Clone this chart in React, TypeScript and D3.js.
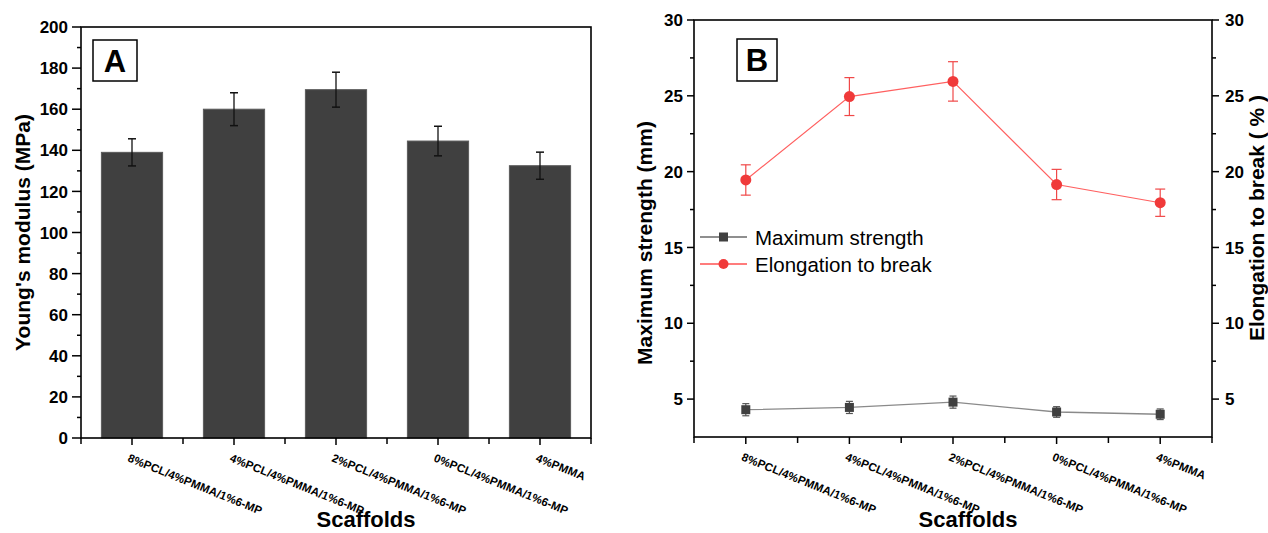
import React from "react";
import * as d3 from "d3";

const categories = [
  "8%PCL/4%PMMA/1%6-MP",
  "4%PCL/4%PMMA/1%6-MP",
  "2%PCL/4%PMMA/1%6-MP",
  "0%PCL/4%PMMA/1%6-MP",
  "4%PMMA",
];

// panel A
const modulus = [139, 160, 169.5, 144.5, 132.5];
const modulusErr = [6.6, 8, 8.5, 7.2, 6.6];

// panel B
const strength = [4.3, 4.45, 4.8, 4.15, 4.0];
const strengthErr = [0.4, 0.4, 0.4, 0.35, 0.35];
const elongation = [19.45, 24.95, 25.95, 19.15, 17.95];
const elongationErr = [1.0, 1.25, 1.3, 1.0, 0.9];

const ticksA = d3.range(0, 201, 20);
const minorA = d3.range(10, 200, 20);
const ticksB = [5, 10, 15, 20, 25, 30];
const minorB = [7.5, 12.5, 17.5, 22.5, 27.5];

const FONT = "'Liberation Sans', Arial, Helvetica, sans-serif";

const W = 1268;
const H = 533;

const CatTicks = ({ x, y0 }: { x: d3.ScaleBand<string>; y0: number }) => {
  const step = x.step();
  const start = x.range()[0];
  return (
    <g>
      {d3.range(0, categories.length + 1).map((k) => (
        <line key={"m" + k} x1={start + k * step} x2={start + k * step} y1={y0} y2={y0 + 6} stroke="#000" strokeWidth={1.5} />
      ))}
      {categories.map((c) => {
        const cx = x(c)! + x.bandwidth() / 2;
        return (
          <g key={c}>
            <line x1={cx} x2={cx} y1={y0} y2={y0 + 7} stroke="#000" strokeWidth={1.5} />
            <text
              transform={`translate(${cx - 5},${y0 + 23}) rotate(22)`}
              fontSize={11.5}
              fontWeight="bold"
              fontFamily={FONT}
              letterSpacing={0.1}
            >
              {c}
            </text>
          </g>
        );
      })}
    </g>
  );
};

const PanelA = () => {
  const x = d3.scaleBand<string>().domain(categories).range([81, 591]).paddingInner(0.4).paddingOuter(0.2);
  const y = d3.scaleLinear().domain([0, 200]).range([438, 27]);
  const [x0, x1] = x.range();
  const [yb, yt] = y.range();
  return (
    <g fontFamily={FONT}>
      {categories.map((c, i) => {
        const cx = x(c)! + x.bandwidth() / 2;
        return (
          <g key={c}>
            <rect x={x(c)} y={y(modulus[i])} width={x.bandwidth()} height={yb - y(modulus[i])} fill="#404040" stroke="#5a5a5a" strokeWidth={1} />
            <line x1={cx} x2={cx} y1={y(modulus[i] + modulusErr[i])} y2={y(modulus[i] - modulusErr[i])} stroke="#111" strokeWidth={1.3} />
            <line x1={cx - 4} x2={cx + 4} y1={y(modulus[i] + modulusErr[i])} y2={y(modulus[i] + modulusErr[i])} stroke="#111" strokeWidth={1.5} />
            <line x1={cx - 4} x2={cx + 4} y1={y(modulus[i] - modulusErr[i])} y2={y(modulus[i] - modulusErr[i])} stroke="#111" strokeWidth={1.5} />
          </g>
        );
      })}
      <rect x={x0} y={yt} width={x1 - x0} height={yb - yt} fill="none" stroke="#000" strokeWidth={1.6} />
      {ticksA.map((t) => (
        <g key={t}>
          <line x1={x0 - 9} x2={x0} y1={y(t)} y2={y(t)} stroke="#000" strokeWidth={1.5} />
          <text x={x0 - 13} y={y(t)} dy="0.36em" textAnchor="end" fontSize={17} fontWeight="bold">
            {t}
          </text>
        </g>
      ))}
      {minorA.map((t) => (
        <line key={t} x1={x0 - 4} x2={x0} y1={y(t)} y2={y(t)} stroke="#000" strokeWidth={1.5} />
      ))}
      <CatTicks x={x} y0={yb} />
      <text transform={`translate(30,${(yt + yb) / 2}) rotate(-90)`} textAnchor="middle" fontSize={21} fontWeight="bold">
        Young's modulus (MPa)
      </text>
      <text x={366} y={527} textAnchor="middle" fontSize={22} fontWeight="bold">
        Scaffolds
      </text>
      <rect x={93} y={40} width={44} height={41} fill="#fff" stroke="#000" strokeWidth={1.5} />
      <text x={115} y={72} textAnchor="middle" fontSize={31} fontWeight="bold">
        A
      </text>
    </g>
  );
};

const PanelB = () => {
  const x = d3.scaleBand<string>().domain(categories).range([694, 1212]);
  const y = d3.scaleLinear().domain([2.5, 30]).range([437, 20]);
  const [x0, x1] = x.range();
  const [yb, yt] = y.range();
  const cx = (c: string) => x(c)! + x.bandwidth() / 2;
  const line = d3
    .line<number>()
    .x((_, i) => cx(categories[i]))
    .y((d) => y(d));
  return (
    <g fontFamily={FONT}>
      <rect x={x0} y={yt} width={x1 - x0} height={yb - yt} fill="none" stroke="#000" strokeWidth={1.6} />
      {ticksB.map((t) => (
        <g key={t}>
          <line x1={x0 - 7} x2={x0} y1={y(t)} y2={y(t)} stroke="#000" strokeWidth={1.5} />
          <text x={x0 - 11} y={y(t)} dy="0.36em" textAnchor="end" fontSize={17} fontWeight="bold">
            {t}
          </text>
          <line x1={x1} x2={x1 + 7} y1={y(t)} y2={y(t)} stroke="#000" strokeWidth={1.5} />
          <text x={x1 + 13} y={y(t)} dy="0.36em" textAnchor="start" fontSize={17} fontWeight="bold">
            {t}
          </text>
        </g>
      ))}
      {minorB.map((t) => (
        <g key={t}>
          <line x1={x0 - 4} x2={x0} y1={y(t)} y2={y(t)} stroke="#000" strokeWidth={1.5} />
          <line x1={x1} x2={x1 + 4} y1={y(t)} y2={y(t)} stroke="#000" strokeWidth={1.5} />
        </g>
      ))}
      <CatTicks x={x} y0={yb} />

      {/* strength */}
      <path d={line(strength)!} fill="none" stroke="#8a8a8a" strokeWidth={1.3} />
      {categories.map((c, i) => (
        <g key={c}>
          <line x1={cx(c)} x2={cx(c)} y1={y(strength[i] + strengthErr[i])} y2={y(strength[i] - strengthErr[i])} stroke="#555" strokeWidth={1.2} />
          <line x1={cx(c) - 3.5} x2={cx(c) + 3.5} y1={y(strength[i] + strengthErr[i])} y2={y(strength[i] + strengthErr[i])} stroke="#555" strokeWidth={1.2} />
          <line x1={cx(c) - 3.5} x2={cx(c) + 3.5} y1={y(strength[i] - strengthErr[i])} y2={y(strength[i] - strengthErr[i])} stroke="#555" strokeWidth={1.2} />
          <rect x={cx(c) - 4.5} y={y(strength[i]) - 4.5} width={9} height={9} fill="#404040" />
        </g>
      ))}

      {/* elongation */}
      <path d={line(elongation)!} fill="none" stroke="#ff6060" strokeWidth={1.2} />
      {categories.map((c, i) => (
        <g key={c}>
          <line x1={cx(c)} x2={cx(c)} y1={y(elongation[i] + elongationErr[i])} y2={y(elongation[i] - elongationErr[i])} stroke="#f04848" strokeWidth={1.2} />
          <line x1={cx(c) - 5} x2={cx(c) + 5} y1={y(elongation[i] + elongationErr[i])} y2={y(elongation[i] + elongationErr[i])} stroke="#f04848" strokeWidth={1.2} />
          <line x1={cx(c) - 5} x2={cx(c) + 5} y1={y(elongation[i] - elongationErr[i])} y2={y(elongation[i] - elongationErr[i])} stroke="#f04848" strokeWidth={1.2} />
          <circle cx={cx(c)} cy={y(elongation[i])} r={5.5} fill="#f03a3a" />
        </g>
      ))}

      {/* legend */}
      <line x1={700} x2={747} y1={237} y2={237} stroke="#6a6a6a" strokeWidth={1.3} />
      <rect x={719} y={232.5} width={9} height={9} fill="#404040" />
      <text x={755} y={244.5} fontSize={20.5}>
        Maximum strength
      </text>
      <line x1={700} x2={747} y1={264} y2={264} stroke="#ff5050" strokeWidth={1.3} />
      <circle cx={723.5} cy={264} r={5} fill="#f03a3a" />
      <text x={755} y={271.5} fontSize={20.5}>
        Elongation to break
      </text>

      <text transform={`translate(652,243) rotate(-90)`} textAnchor="middle" fontSize={21} fontWeight="bold">
        Maximum strength (mm)
      </text>
      <text transform={`translate(1264,218) rotate(-90)`} textAnchor="middle" fontSize={21} fontWeight="bold">
        Elongation to break ( % )
      </text>
      <text x={968} y={527} textAnchor="middle" fontSize={22} fontWeight="bold">
        Scaffolds
      </text>
      <rect x={737} y={39} width={40} height={42} fill="#fff" stroke="#000" strokeWidth={1.5} />
      <text x={757} y={71} textAnchor="middle" fontSize={31} fontWeight="bold">
        B
      </text>
    </g>
  );
};

export default function App() {
  return (
    <svg width={W} height={H} style={{ position: "absolute", left: 0, top: 0, background: "#fff" }}>
      <rect width={W} height={H} fill="#fff" />
      <PanelA />
      <PanelB />
    </svg>
  );
}
